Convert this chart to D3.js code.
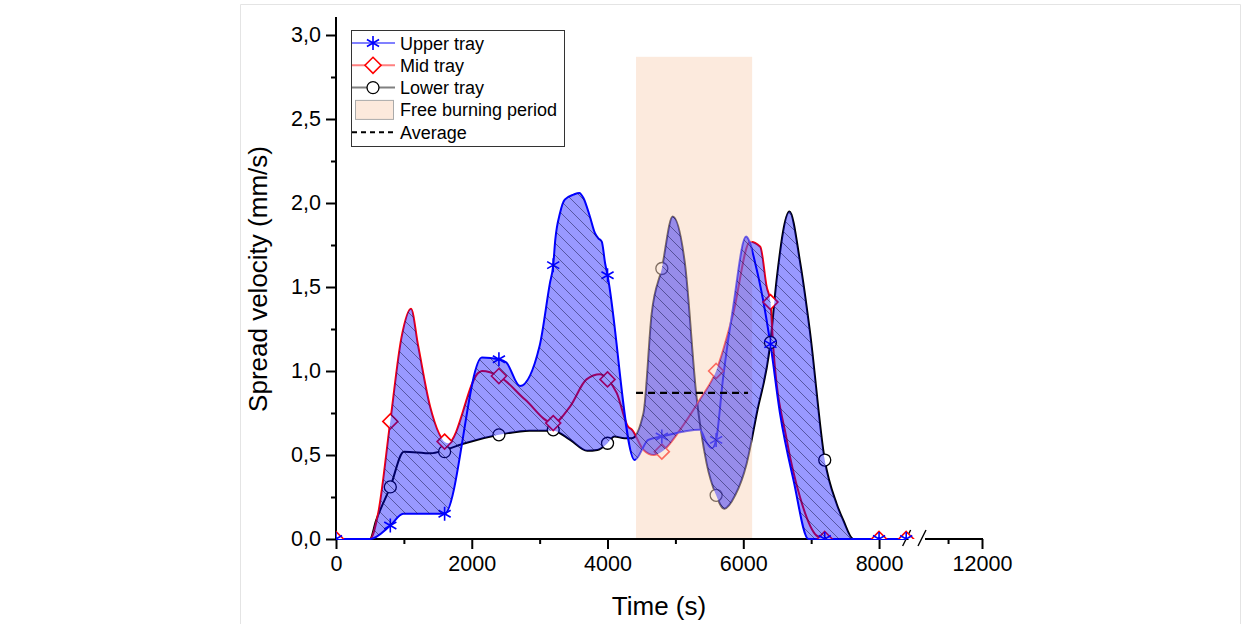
<!DOCTYPE html>
<html>
<head>
<meta charset="utf-8">
<script src="https://cdn.jsdelivr.net/npm/d3@7"></script>
<style>
  body { margin: 0; background: #fff; }
  svg { display: block; font-family: Arial, "Liberation Sans", sans-serif; }
</style>
</head>
<body>
<div class="svg-container"></div>
<script>
// Curve data (time in s, spread velocity in mm/s)
var upperT = [0, 500, 800, 990, 1600, 2150, 2400, 2510, 2710, 3000, 3150, 3200, 3230, 3300, 3370, 3500, 3585, 3645, 3740, 3815, 3865, 3915, 3965, 4000, 4400, 4600, 4800, 5360, 5450, 5540, 5600, 5700, 5850, 6040, 6200, 6400, 6540, 6740, 6960, 8400];
var upperV = [0, 0, 0.08, 0.15, 0.15, 1.08, 1.07, 1.05, 0.91, 1.15, 1.52, 1.63, 1.78, 1.94, 2.02, 2.05, 2.06, 2.03, 1.92, 1.82, 1.79, 1.77, 1.64, 1.57, 0.47, 0.59, 0.61, 0.65, 0.58, 0.54, 0.59, 0.95, 1.38, 1.80, 1.60, 1.16, 0.75, 0.35, 0, 0];

var midT = [0, 500, 620, 800, 965, 1105, 1210, 1385, 1650, 2100, 2150, 2400, 2785, 3200, 3450, 3690, 3890, 4000, 4135, 4300, 4360, 4530, 4680, 4800, 5120, 5360, 5600, 5850, 6100, 6250, 6345, 6400, 6440, 6640, 6835, 7080, 7200, 8400];
var midV = [0, 0, 0.15, 0.70, 1.20, 1.37, 1.15, 0.79, 0.57, 0.99, 1.00, 0.97, 0.83, 0.69, 0.79, 0.95, 0.98, 0.95, 0.87, 0.67, 0.65, 0.53, 0.50, 0.52, 0.68, 0.83, 1.00, 1.34, 1.77, 1.74, 1.50, 1.41, 1.15, 0.59, 0.25, 0.02, 0, 0];

var lowerT = [0, 500, 590, 800, 1000, 1400, 1600, 1900, 2400, 2850, 3200, 3450, 3700, 3850, 4000, 4100, 4250, 4360, 4530, 4650, 4800, 4960, 5140, 5310, 5460, 5600, 5720, 5880, 6050, 6200, 6400, 6490, 6680, 6840, 6980, 7200, 7375, 7475, 7620, 8400];
var lowerV = [0, 0, 0.11, 0.31, 0.52, 0.51, 0.53, 0.57, 0.62, 0.645, 0.645, 0.59, 0.525, 0.53, 0.57, 0.61, 0.60, 0.60, 0.75, 1.34, 1.61, 1.92, 1.64, 0.85, 0.45, 0.26, 0.18, 0.26, 0.45, 0.75, 1.17, 1.54, 1.95, 1.64, 1.24, 0.47, 0.21, 0.11, 0, 0];

// Measured points (markers)
var markerT = [0, 800, 1600, 2400, 3200, 4000, 4800, 5600, 6400, 7200, 8000, 8400];
var upperM = [0, 0.08, 0.15, 1.07, 1.63, 1.57, 0.61, 0.59, 1.16, 0, 0, 0];
var midM = [0, 0.70, 0.58, 0.97, 0.69, 0.95, 0.52, 1.00, 1.41, 0, 0, 0];
var lowerM = [null, 0.31, 0.52, 0.62, 0.65, 0.57, 1.61, 0.26, 1.17, 0.47, null, null];

var freeBurning = [4420, 6130];
var freeTop = 2.87;
var averageSpan = [4420, 6070];
var averageValue = 0.87;

var yTicks = [0, 0.5, 1, 1.5, 2, 2.5, 3];
var yMinor = [0.25, 0.75, 1.25, 1.75, 2.25, 2.75];
var xTicks = [0, 2000, 4000, 6000, 8000, 12000];
var xMinor = [1000, 3000, 5000, 7000, 11000];
var legendNames = ["Upper tray", "Mid tray", "Lower tray", "Free burning period", "Average"];

var width = 1249, height = 624;

var svg = d3.select(".svg-container").append("svg")
    .attr("width", width)
    .attr("height", height);

// faint frame of the original figure
svg.append("path")
    .attr("d", "M240.5,624V4.5H1240.5V624")
    .attr("fill", "none")
    .attr("stroke", "#e4e4e4")
    .attr("stroke-width", 1);

// broken x axis: 0-8450 then 10380-12000 at half the scale
var xScale = d3.scaleLinear().domain([0, 8450, 10380, 12000]).range([336, 909.6, 927, 982]);
var yScale = d3.scaleLinear().domain([0, 3.1]).range([539, 18.2]);

var defs = svg.append("defs");

var hatch = defs.append("pattern")
    .attr("id", "hatch")
    .attr("patternUnits", "userSpaceOnUse")
    .attr("width", 12).attr("height", 12);
hatch.append("path")
    .attr("d", "M0,0L12,12M-2,10L2,14M10,-2L14,2")
    .attr("stroke", "rgba(20,20,70,0.5)")
    .attr("stroke-width", 1);

defs.append("clipPath").attr("id", "plotClip")
  .append("rect").attr("x", 336).attr("y", 0).attr("width", 646).attr("height", 539);
defs.append("clipPath").attr("id", "lineClip")
  .append("rect").attr("x", 336).attr("y", 0).attr("width", 646).attr("height", 541);

function pts(ts, vs) {
    return ts.map(function(t, i) { return {t: t, v: vs[i]}; })
             .filter(function(d) { return d.v !== null; });
}
var upperData = pts(upperT, upperV),
    midData = pts(midT, midV),
    lowerData = pts(lowerT, lowerV);

var line = d3.line()
    .curve(d3.curveMonotoneX)
    .x(function(d) { return xScale(d.t); })
    .y(function(d) { return yScale(d.v); });

// region under a curve, closed well below the baseline
function underPath(data) {
    var first = data[0], last = data[data.length - 1];
    var yb = yScale(0) + 20;
    return line(data) + "L" + xScale(last.t) + "," + yb + "L" + xScale(first.t) + "," + yb + "Z";
}

// envelope between the three curves = union of pairwise xor regions
var env = defs.append("clipPath").attr("id", "envelope");
[[upperData, midData], [midData, lowerData], [upperData, lowerData]].forEach(function(p) {
    env.append("path")
        .attr("d", underPath(p[0]) + underPath(p[1]))
        .attr("clip-rule", "evenodd");
});

/* AXES */
var axisG = svg.append("g").style("font-family", "Arial, 'Liberation Sans', sans-serif");

var fmt = function(v) { return d3.format(".1f")(v).replace(".", ","); };

axisG.append("g")
    .attr("transform", "translate(336,0)")
    .call(d3.axisLeft(yScale).tickValues(yTicks).tickFormat(fmt).tickSize(10).tickSizeOuter(0).tickPadding(5));
axisG.append("g")
    .attr("transform", "translate(336,0)")
    .call(d3.axisLeft(yScale).tickValues(yMinor).tickFormat("").tickSize(5).tickSizeOuter(0));

axisG.append("g")
    .attr("transform", "translate(0,539)")
    .call(d3.axisBottom(xScale).tickValues(xTicks).tickFormat(d3.format("d")).tickSize(10).tickSizeOuter(0).tickPadding(7));
axisG.append("g")
    .attr("transform", "translate(0,539)")
    .call(d3.axisBottom(xScale).tickValues(xMinor).tickFormat("").tickSize(5).tickSizeOuter(0));

axisG.selectAll(".domain").remove();
axisG.selectAll(".tick line").attr("stroke", "#000").attr("stroke-width", 2);
axisG.selectAll(".tick text").attr("fill", "#000").style("font-size", "21.5px");

// axis lines (x axis with a break)
axisG.append("line")
    .attr("x1", 336).attr("x2", 336).attr("y1", 17).attr("y2", 540)
    .attr("stroke", "#000").attr("stroke-width", 2);
axisG.append("line")
    .attr("x1", 335).attr("x2", xScale(8450) - 1).attr("y1", 539).attr("y2", 539)
    .attr("stroke", "#000").attr("stroke-width", 2);
axisG.append("line")
    .attr("x1", xScale(10380) - 2).attr("x2", 983).attr("y1", 539).attr("y2", 539)
    .attr("stroke", "#000").attr("stroke-width", 2);
[xScale(8450) - 3, xScale(10380) - 5].forEach(function(bx) {
    axisG.append("line")
        .attr("x1", bx - 4).attr("y1", 546)
        .attr("x2", bx + 4).attr("y2", 530)
        .attr("stroke", "#000").attr("stroke-width", 1.4);
});

axisG.append("text")
    .attr("x", 659).attr("y", 615)
    .attr("text-anchor", "middle")
    .style("font-size", "26px")
    .text("Time (s)");
axisG.append("text")
    .attr("transform", "translate(267,279) rotate(-90)")
    .attr("text-anchor", "middle")
    .style("font-size", "26px")
    .text("Spread velocity (mm/s)");

/* PLOT */
var plot = svg.append("g");

var lineG = plot.append("g").attr("clip-path", "url(#lineClip)");
[[lowerData, "#000"], [midData, "#ff0000"], [upperData, "#0000ff"]].forEach(function(s) {
    lineG.append("path")
        .datum(s[0])
        .attr("d", line)
        .attr("fill", "none")
        .attr("stroke", s[1])
        .attr("stroke-width", 2);
});

function asterisk(r) {
    var a = r * Math.cos(Math.PI / 6), b = r * Math.sin(Math.PI / 6);
    return "M0," + (-r) + "L0," + r + "M" + (-a) + "," + (-b) + "L" + a + "," + b + "M" + (-a) + "," + b + "L" + a + "," + (-b);
}
function diamond(r) {
    return "M0," + (-r) + "L" + r + ",0L0," + r + "L" + (-r) + ",0Z";
}

var markG = plot.append("g").attr("clip-path", "url(#plotClip)");
markG.selectAll("circle.lower")
    .data(pts(markerT, lowerM))
    .enter().append("circle")
    .attr("class", "lower")
    .attr("cx", function(d) { return xScale(d.t); })
    .attr("cy", function(d) { return yScale(d.v); })
    .attr("r", 6)
    .attr("fill", "#fff")
    .attr("stroke", "#000")
    .attr("stroke-width", 1.3);
markG.selectAll("path.mid")
    .data(pts(markerT, midM))
    .enter().append("path")
    .attr("class", "mid")
    .attr("transform", function(d) { return "translate(" + xScale(d.t) + "," + yScale(d.v) + ")"; })
    .attr("d", diamond(7.5))
    .attr("fill", "#fff")
    .attr("stroke", "#ff0000")
    .attr("stroke-width", 1.6);
markG.selectAll("path.upper")
    .data(pts(markerT, upperM))
    .enter().append("path")
    .attr("class", "upper")
    .attr("transform", function(d) { return "translate(" + xScale(d.t) + "," + yScale(d.v) + ")"; })
    .attr("d", asterisk(7))
    .attr("fill", "none")
    .attr("stroke", "#0000ff")
    .attr("stroke-width", 1.6);

// free burning period, translucent over lines and markers
plot.append("rect")
    .attr("x", xScale(freeBurning[0]))
    .attr("y", yScale(freeTop))
    .attr("width", xScale(freeBurning[1]) - xScale(freeBurning[0]))
    .attr("height", yScale(0) - 1 - yScale(freeTop))
    .attr("fill", "#f9d5bb")
    .attr("fill-opacity", 0.5);

// hatched envelope fill
var fillG = plot.append("g").attr("clip-path", "url(#envelope)");
fillG.append("rect")
    .attr("x", 336).attr("y", 0).attr("width", 646).attr("height", 539)
    .attr("fill", "#0000ff").attr("fill-opacity", 0.4);
fillG.append("rect")
    .attr("x", 336).attr("y", 0).attr("width", 646).attr("height", 539)
    .attr("fill", "url(#hatch)");

plot.append("line")
    .attr("x1", xScale(averageSpan[0])).attr("x2", xScale(averageSpan[1]))
    .attr("y1", yScale(averageValue)).attr("y2", yScale(averageValue))
    .attr("stroke", "#000")
    .attr("stroke-width", 2.2)
    .attr("stroke-dasharray", "7,5");

/* LEGEND */
var legend = svg.append("g").attr("transform", "translate(351,30)");
legend.append("rect")
    .attr("x", 0.5).attr("y", 0.5).attr("width", 213).attr("height", 116)
    .attr("fill", "#fff").attr("stroke", "#333").attr("stroke-width", 1);

var rowY = function(i) { return 13 + i * 22.3; };
var legendLines = ["#8080ff", "#ff8080", "#808080"];
legendLines.forEach(function(c, i) {
    legend.append("line")
        .attr("x1", 1).attr("x2", 44).attr("y1", rowY(i)).attr("y2", rowY(i))
        .attr("stroke", c).attr("stroke-width", 2);
});
legend.append("path").attr("transform", "translate(22," + rowY(0) + ")")
    .attr("d", asterisk(7)).attr("fill", "none").attr("stroke", "#0000ff").attr("stroke-width", 1.6);
legend.append("path").attr("transform", "translate(22," + rowY(1) + ")")
    .attr("d", diamond(8)).attr("fill", "#fff").attr("stroke", "#ff0000").attr("stroke-width", 1.6);
legend.append("circle").attr("cx", 22).attr("cy", rowY(2)).attr("r", 6)
    .attr("fill", "#fff").attr("stroke", "#000").attr("stroke-width", 1.3);
legend.append("rect")
    .attr("x", 4.5).attr("y", rowY(3) - 9.5).attr("width", 38).attr("height", 19)
    .attr("fill", "#fce9dc").attr("stroke", "#aaa").attr("stroke-width", 1);
legend.append("line")
    .attr("x1", 1).attr("x2", 44).attr("y1", rowY(4)).attr("y2", rowY(4))
    .attr("stroke", "#000").attr("stroke-width", 2).attr("stroke-dasharray", "5,4");

legend.selectAll("text.lab")
    .data(legendNames)
    .enter().append("text")
    .attr("class", "lab")
    .attr("x", 49)
    .attr("y", function(d, i) { return rowY(i) + 6.5; })
    .style("font-size", "18px")
    .text(function(d) { return d; });
</script>
</body>
</html>
